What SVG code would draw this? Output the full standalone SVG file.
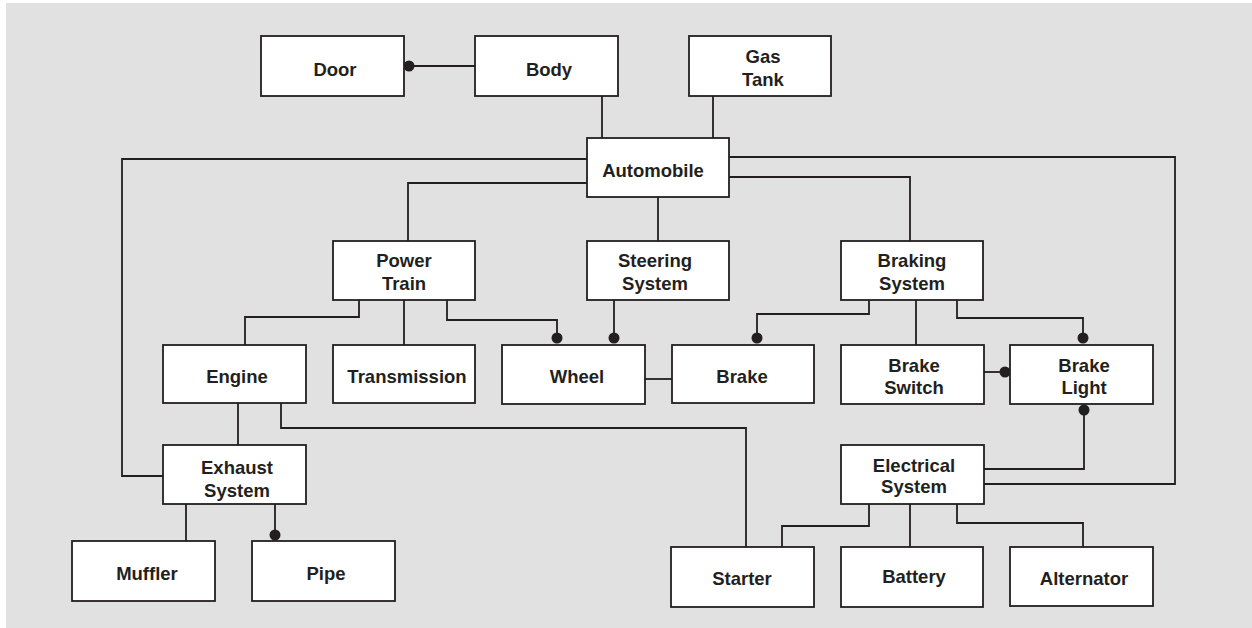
<svg xmlns="http://www.w3.org/2000/svg" width="1252" height="628" viewBox="0 0 1252 628">
  <style>
    .box { fill: #ffffff; stroke: #231f20; stroke-width: 1.8; }
    .lbl { font-family: "Liberation Sans", Arial, Helvetica, sans-serif; font-weight: bold; font-size: 18.5px; fill: #231f20; text-anchor: middle; }
    .wire { fill: none; stroke: #231f20; stroke-width: 1.8; }
    .dot { fill: #231f20; }
  </style>
  <rect x="0" y="0" width="1252" height="628" fill="#ffffff"/>
  <rect x="6" y="3" width="1246" height="625" fill="#e1e1e1"/>

  <!-- connectors -->
  <g id="connectors">
    <path class="wire" d="M409 66 H475"/>
    <path class="wire" d="M602 96 V138"/>
    <path class="wire" d="M713 96 V138"/>
    <path class="wire" d="M587 159 H122 V476 H163"/>
    <path class="wire" d="M587 183 H408 V241"/>
    <path class="wire" d="M658 197 V241"/>
    <path class="wire" d="M729 177 H910 V241"/>
    <path class="wire" d="M729 157 H1175 V484 H984"/>
    <path class="wire" d="M359 300 V317 H245 V345"/>
    <path class="wire" d="M404 300 V345"/>
    <path class="wire" d="M447 300 V320 H557 V338"/>
    <path class="wire" d="M614 300 V338"/>
    <path class="wire" d="M645 379 H672"/>
    <path class="wire" d="M869 300 V314 H757 V338"/>
    <path class="wire" d="M916 300 V345"/>
    <path class="wire" d="M957 300 V318 H1083 V338"/>
    <path class="wire" d="M984 372 H1005"/>
    <path class="wire" d="M1084 410 V469 H984"/>
    <path class="wire" d="M238 403 V445"/>
    <path class="wire" d="M281 403 V428 H746 V547"/>
    <path class="wire" d="M186 504 V541"/>
    <path class="wire" d="M275 504 V535"/>
    <path class="wire" d="M869 504 V526 H782 V547"/>
    <path class="wire" d="M910 504 V547"/>
    <path class="wire" d="M957 504 V523 H1083 V547"/>
    <circle class="dot" cx="409" cy="66" r="5.5"/>
    <circle class="dot" cx="557" cy="338" r="5.5"/>
    <circle class="dot" cx="614" cy="338" r="5.5"/>
    <circle class="dot" cx="757" cy="338" r="5.5"/>
    <circle class="dot" cx="1083" cy="338" r="5.5"/>
    <circle class="dot" cx="1005" cy="372" r="5.5"/>
    <circle class="dot" cx="1084" cy="410" r="5.5"/>
    <circle class="dot" cx="275" cy="535" r="5.5"/>
  </g>

  <!-- nodes -->
  <g id="door"><rect class="box" x="261" y="36" width="143" height="60"/><text class="lbl" x="335" y="76">Door</text></g>
  <g id="body"><rect class="box" x="475" y="36" width="143" height="60"/><text class="lbl" x="549" y="76">Body</text></g>
  <g id="gas-tank"><rect class="box" x="689" y="36" width="142" height="60"/><text class="lbl" x="763" y="63">Gas</text><text class="lbl" x="763" y="86">Tank</text></g>
  <g id="automobile"><rect class="box" x="587" y="138" width="142" height="59"/><text class="lbl" x="653" y="177">Automobile</text></g>
  <g id="power-train"><rect class="box" x="333" y="241" width="142" height="59"/><text class="lbl" x="404" y="267">Power</text><text class="lbl" x="404" y="290">Train</text></g>
  <g id="steering-system"><rect class="box" x="587" y="241" width="142" height="59"/><text class="lbl" x="655" y="267">Steering</text><text class="lbl" x="655" y="290">System</text></g>
  <g id="braking-system"><rect class="box" x="841" y="241" width="142" height="59"/><text class="lbl" x="912" y="267">Braking</text><text class="lbl" x="912" y="290">System</text></g>
  <g id="engine"><rect class="box" x="163" y="345" width="143" height="58"/><text class="lbl" x="237" y="383">Engine</text></g>
  <g id="transmission"><rect class="box" x="333" y="345" width="142" height="58"/><text class="lbl" x="407" y="383">Transmission</text></g>
  <g id="wheel"><rect class="box" x="502" y="345" width="143" height="59"/><text class="lbl" x="577" y="383">Wheel</text></g>
  <g id="brake"><rect class="box" x="672" y="345" width="142" height="58"/><text class="lbl" x="742" y="383">Brake</text></g>
  <g id="brake-switch"><rect class="box" x="841" y="345" width="143" height="59"/><text class="lbl" x="914" y="372">Brake</text><text class="lbl" x="914" y="394">Switch</text></g>
  <g id="brake-light"><rect class="box" x="1010" y="345" width="143" height="59"/><text class="lbl" x="1084" y="372">Brake</text><text class="lbl" x="1084" y="394">Light</text></g>
  <g id="exhaust-system"><rect class="box" x="163" y="445" width="143" height="59"/><text class="lbl" x="237" y="474">Exhaust</text><text class="lbl" x="237" y="497">System</text></g>
  <g id="electrical-system"><rect class="box" x="841" y="445" width="143" height="59"/><text class="lbl" x="914" y="472">Electrical</text><text class="lbl" x="914" y="493">System</text></g>
  <g id="muffler"><rect class="box" x="72" y="541" width="143" height="60"/><text class="lbl" x="147" y="580">Muffler</text></g>
  <g id="pipe"><rect class="box" x="252" y="541" width="143" height="60"/><text class="lbl" x="326" y="580">Pipe</text></g>
  <g id="starter"><rect class="box" x="671" y="547" width="143" height="60"/><text class="lbl" x="742" y="585">Starter</text></g>
  <g id="battery"><rect class="box" x="841" y="547" width="142" height="60"/><text class="lbl" x="914" y="583">Battery</text></g>
  <g id="alternator"><rect class="box" x="1010" y="547" width="143" height="59"/><text class="lbl" x="1084" y="585">Alternator</text></g>
</svg>
